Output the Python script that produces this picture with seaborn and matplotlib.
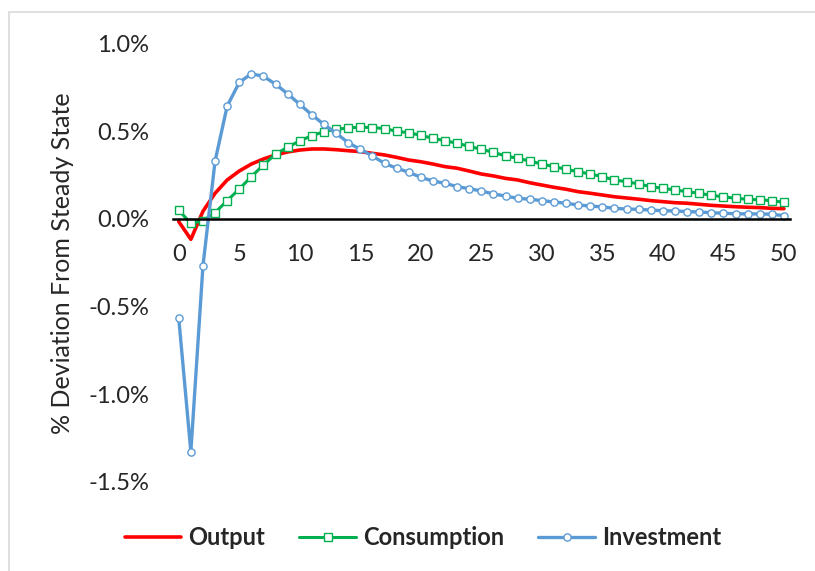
import numpy as np
import pandas as pd
import matplotlib
matplotlib.use('Agg')
import matplotlib.pyplot as plt
import seaborn as sns
from matplotlib.lines import Line2D
from matplotlib.patches import Rectangle
from matplotlib.ticker import FixedLocator, FuncFormatter

# Impulse responses, % deviation from steady state, periods 0..50
periods = list(range(51))

output = [-0.015, -0.116, 0.044, 0.147, 0.223, 0.274, 0.314, 0.343, 0.366, 0.383,
          0.394, 0.400, 0.400, 0.396, 0.390, 0.385, 0.375, 0.366, 0.352, 0.337,
          0.327, 0.314, 0.299, 0.290, 0.274, 0.257, 0.246, 0.232, 0.223, 0.207,
          0.194, 0.181, 0.170, 0.156, 0.147, 0.137, 0.127, 0.120, 0.113, 0.105,
          0.099, 0.093, 0.090, 0.084, 0.078, 0.074, 0.070, 0.067, 0.065, 0.061,
          0.059]

consumption = [0.050, -0.025, -0.010, 0.036, 0.105, 0.171, 0.242, 0.309, 0.371, 0.410,
               0.447, 0.476, 0.499, 0.513, 0.520, 0.525, 0.522, 0.517, 0.501, 0.493,
               0.478, 0.461, 0.447, 0.433, 0.415, 0.398, 0.381, 0.360, 0.347, 0.331,
               0.314, 0.299, 0.284, 0.270, 0.257, 0.242, 0.223, 0.213, 0.200, 0.185,
               0.175, 0.166, 0.156, 0.147, 0.135, 0.127, 0.118, 0.113, 0.109, 0.105,
               0.095]

investment = [-0.567, -1.330, -0.267, 0.330, 0.645, 0.780, 0.830, 0.815, 0.770, 0.715,
              0.655, 0.595, 0.540, 0.490, 0.436, 0.398, 0.360, 0.318, 0.290, 0.267,
              0.238, 0.217, 0.204, 0.185, 0.173, 0.160, 0.143, 0.131, 0.118, 0.113,
              0.105, 0.097, 0.090, 0.080, 0.074, 0.069, 0.061, 0.057, 0.055, 0.051,
              0.047, 0.046, 0.042, 0.040, 0.036, 0.033, 0.030, 0.029, 0.029, 0.027,
              0.019]

y_ticks = [-1.5, -1.0, -0.5, 0.0, 0.5, 1.0]
x_ticks = list(range(0, 51, 5))

df = pd.DataFrame({'Period': periods, 'Output': output,
                   'Consumption': consumption, 'Investment': investment})

red = '#FF0000'
green = '#00B050'
blue = '#5B9BD5'

sns.set_style('white')
plt.rcParams['font.family'] = ['Lato', 'DejaVu Sans']

fig = plt.figure(figsize=(8.15, 5.71), dpi=100)
ax = fig.add_axes([0.2119, 0.1567, 0.7574, 0.7663])

# light grey chart-area border
fig.patches.append(Rectangle((9 / 815, -0.1), 1.1, 1 - 12 / 571 + 0.1,
                             transform=fig.transFigure, fill=False,
                             edgecolor='#D9D9D9', linewidth=1.2))

sns.lineplot(data=df, x='Period', y='Output', ax=ax, color=red, linewidth=2.6)
sns.lineplot(data=df, x='Period', y='Consumption', ax=ax, color=green, linewidth=2.2,
             marker='s', markersize=5.5, markerfacecolor='white',
             markeredgecolor=green, markeredgewidth=1.0)
sns.lineplot(data=df, x='Period', y='Investment', ax=ax, color=blue, linewidth=2.4,
             marker='o', markersize=5.2, markerfacecolor='white',
             markeredgecolor=blue, markeredgewidth=1.0)

ax.set_xlim(-0.5, 50.5)
ax.set_ylim(-1.5, 1.0)

# x axis drawn at zero, category style ticks between labels
for s in ['top', 'right', 'left']:
    ax.spines[s].set_visible(False)
ax.spines['bottom'].set_position(('data', 0))
ax.spines['bottom'].set_linewidth(1.8)
ax.spines['bottom'].set_color('black')

ax.set_xticks(x_ticks)
ax.xaxis.set_minor_locator(FixedLocator([t - 0.5 for t in x_ticks]))
ax.tick_params(axis='x', which='major', length=0, pad=18, labelsize=17)
ax.tick_params(axis='x', which='minor', length=6, width=1.6, color='black', direction='out')

ax.set_yticks(y_ticks)
ax.yaxis.set_major_formatter(FuncFormatter(lambda v, p: f'{v:.1f}%'))
ax.tick_params(axis='y', length=0, pad=17, labelsize=17)

ax.set_xlabel('')
ax.set_ylabel('% Deviation From Steady State', fontsize=18, labelpad=10)
ax.grid(False)

handles = [
    Line2D([], [], color=red, linewidth=2.6),
    Line2D([], [], color=green, linewidth=2.2, marker='s', markersize=5.5,
           markerfacecolor='white', markeredgecolor=green, markeredgewidth=1.0),
    Line2D([], [], color=blue, linewidth=2.4, marker='o', markersize=5.2,
           markerfacecolor='white', markeredgecolor=blue, markeredgewidth=1.0),
]
fig.legend(handles, ['Output', 'Consumption', 'Investment'], loc='center',
           bbox_to_anchor=(0.519, 0.059), ncol=3, frameon=False,
           prop={'size': 17, 'weight': 'bold'}, handlelength=2.4,
           handletextpad=0.3, columnspacing=1.45)

fig.savefig('out.png', dpi=100)
